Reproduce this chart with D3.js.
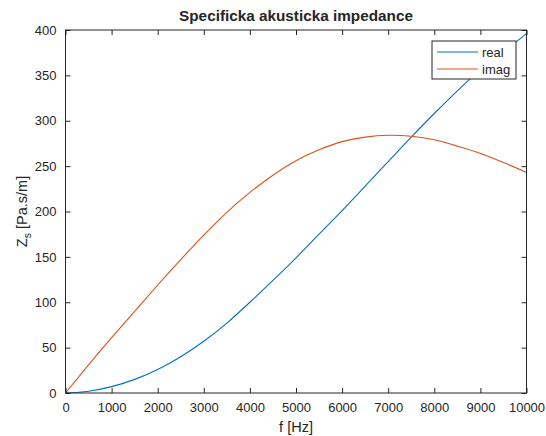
<!DOCTYPE html>
<html>
<head>
<meta charset="utf-8">
<script src="https://cdn.jsdelivr.net/npm/d3@7"></script>
<style>
  body { margin: 0; background: #fff; }
  svg text { font-family: "Liberation Sans", Arial, Helvetica, sans-serif; fill: #262626; }
</style>
</head>
<body>
<div id="chart"></div>
<script>
// frequency [Hz] and impedance values
const freq = [0, 500, 1000, 1500, 2000, 2500, 3000, 3500, 4000, 4500, 5000,
              5500, 6000, 6500, 7000, 7500, 8000, 8500, 9000, 9500, 10000];
const realPart = [0, 2, 7, 15, 26, 40, 57, 77, 100, 124, 149,
                  175, 201, 228, 255, 282, 308, 333, 356, 376, 396];
const imagPart = [0, 31, 61, 90, 119, 147, 174, 199, 221, 240, 256,
                  268, 277, 282, 284, 283, 279, 272, 264, 254, 243];
const xTicks = d3.range(0, 10001, 1000);
const yTicks = d3.range(0, 401, 50);

const width = 546, height = 436;
const mLeft = 65.5, mRight = 526.5, mTop = 30, mBottom = 393;
const axisColor = '#262626';

const svg = d3.select('#chart').append('svg')
    .attr('width', width)
    .attr('height', height);

let x = d3.scaleLinear().domain([0, 10000]).range([mLeft, mRight]);
let y = d3.scaleLinear().domain([0, 400]).range([mBottom, mTop]);

let series = [
    { name: 'real', color: '#0072BD', values: realPart },
    { name: 'imag', color: '#D95319', values: imagPart }
];

let line = d3.line()
    .x(function (d) { return x(d[0]); })
    .y(function (d) { return y(d[1]); })
    .curve(d3.curveNatural);

let plot = svg.append('g');
plot.append('defs').append('clipPath').attr('id', 'clip')
    .append('rect')
    .attr('x', mLeft).attr('y', mTop)
    .attr('width', mRight - mLeft).attr('height', mBottom - mTop);

plot.selectAll('path.series')
    .data(series)
    .join('path')
    .attr('class', 'series')
    .attr('clip-path', 'url(#clip)')
    .attr('fill', 'none')
    .attr('stroke', function (d) { return d.color; })
    .attr('stroke-width', 1.1)
    .attr('d', function (d) { return line(d.values.map(function (v, i) { return [freq[i], v]; })); });

// axes, ticks pointing inward, box on
function styleAxis(g) {
    g.select('.domain').remove();
    g.selectAll('line').attr('stroke', axisColor);
    g.selectAll('text').attr('font-size', 13).attr('fill', axisColor);
}

svg.append('g')
    .attr('transform', 'translate(0,' + mBottom + ')')
    .call(d3.axisBottom(x).tickValues(xTicks).tickSize(-5).tickPadding(10).tickFormat(d3.format('d')))
    .call(styleAxis);
svg.append('g')
    .attr('transform', 'translate(0,' + mTop + ')')
    .call(d3.axisTop(x).tickValues(xTicks).tickSize(-5).tickFormat(''))
    .call(styleAxis);
svg.append('g')
    .attr('transform', 'translate(' + mLeft + ',0)')
    .call(d3.axisLeft(y).tickValues(yTicks).tickSize(-5).tickPadding(9).tickFormat(d3.format('d')))
    .call(styleAxis);
svg.append('g')
    .attr('transform', 'translate(' + mRight + ',0)')
    .call(d3.axisRight(y).tickValues(yTicks).tickSize(-5).tickFormat(''))
    .call(styleAxis);

svg.append('rect')
    .attr('x', mLeft).attr('y', mTop)
    .attr('width', mRight - mLeft).attr('height', mBottom - mTop)
    .attr('fill', 'none')
    .attr('stroke', axisColor)
    .attr('stroke-width', 1);

// title and labels
svg.append('text')
    .attr('x', (mLeft + mRight) / 2).attr('y', 21)
    .attr('text-anchor', 'middle')
    .attr('font-size', 15.3)
    .attr('font-weight', 'bold')
    .attr('fill', '#000')
    .text('Specificka akusticka impedance');

svg.append('text')
    .attr('x', (mLeft + mRight) / 2).attr('y', 432)
    .attr('text-anchor', 'middle')
    .attr('font-size', 14.5)
    .text('f [Hz]');

let ylab = svg.append('text')
    .attr('transform', 'translate(27,' + ((mTop + mBottom) / 2) + ') rotate(-90)')
    .attr('text-anchor', 'middle')
    .attr('font-size', 14.5);
ylab.append('tspan').text('Z');
ylab.append('tspan').attr('font-size', 10.5).attr('dy', 4).text('s');
ylab.append('tspan').attr('dy', -4).text(' [Pa.s/m]');

// legend
let lg = svg.append('g').attr('transform', 'translate(432,41)');
lg.append('rect')
    .attr('width', 84).attr('height', 38)
    .attr('fill', '#fff')
    .attr('stroke', axisColor)
    .attr('stroke-width', 1);
series.forEach(function (s, i) {
    let yy = 11 + i * 17;
    lg.append('line')
        .attr('x1', 5).attr('x2', 46)
        .attr('y1', yy).attr('y2', yy)
        .attr('stroke', s.color)
        .attr('stroke-width', 1.1);
    lg.append('text')
        .attr('x', 50).attr('y', yy + 4.5)
        .attr('font-size', 13)
        .attr('fill', '#000')
        .text(s.name);
});
</script>
</body>
</html>
